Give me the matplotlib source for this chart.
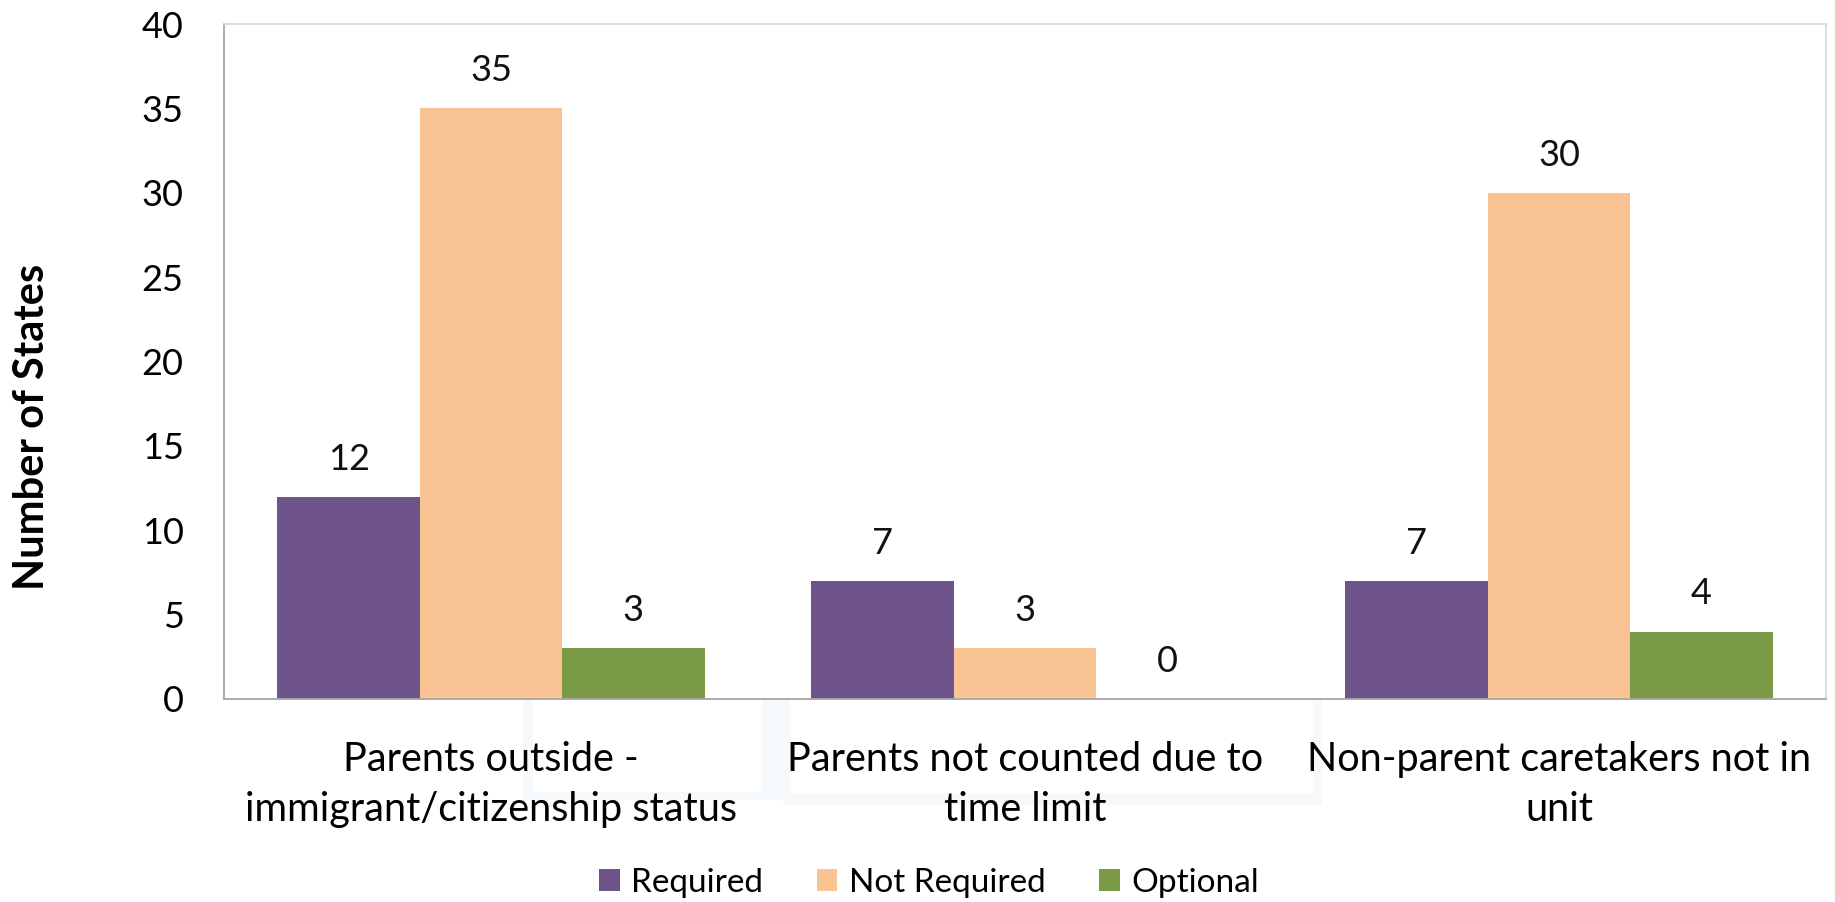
import matplotlib
matplotlib.use("Agg")
import matplotlib.pyplot as plt
from matplotlib.patches import Rectangle
import numpy as np

categories = ["Parents outside -\nimmigrant/citizenship status",
              "Parents not counted due to\ntime limit",
              "Non-parent caretakers not in\nunit"]
series_names = ["Required", "Not Required", "Optional"]
required = [12, 7, 7]
not_required = [35, 3, 30]
optional = [3, 0, 4]
yticks = [0, 5, 10, 15, 20, 25, 30, 35, 40]
colors = ["#6E548A", "#F9C394", "#7B9A45"]

plt.rcParams['font.family'] = ['Lato', 'DejaVu Sans']

W, H = 1835, 902
fig = plt.figure(figsize=(W/100, H/100), dpi=100)

# faint background frames under the category labels (artifact in the original image)
def px_rect(x0, y0, x1, y1, color):
    fig.add_artist(Rectangle((x0/W, 1-y1/H), (x1-x0)/W, (y1-y0)/H,
                             transform=fig.transFigure, facecolor=color,
                             edgecolor='none', zorder=-2))
px_rect(523, 700, 783, 800, '#F6F9FC')
px_rect(533, 700, 762, 792, 'white')
px_rect(783, 700, 1322, 805, '#F6F9FC')
px_rect(790, 700, 1313, 793, 'white')

ax = fig.add_axes([224/W, 1-699/H, (1826-224)/W, (699-24)/H])
ax.patch.set_alpha(0)

x = np.arange(len(categories))
w = 0.8/3
for i, (vals, name, c) in enumerate(zip([required, not_required, optional], series_names, colors)):
    xs = x + (i-1)*w
    ax.bar(xs, vals, width=w, color=c, label=name, linewidth=0)
    for xi, v in zip(xs, vals):
        ax.annotate(str(v), (xi, v), xytext=(0, 27), textcoords='offset points',
                    ha='center', va='center', fontsize=26, color='#111111')

ax.set_xlim(-0.5, 2.5)
ax.set_ylim(0, 40)
ax.set_yticks(yticks)
ax.set_xticks(x)
ax.set_xticklabels(categories, fontsize=28.5, linespacing=1.45)
ax.tick_params(axis='y', length=0, pad=29, labelsize=26)
ax.tick_params(axis='x', length=0, pad=30)
for s in ['top', 'right']:
    ax.spines[s].set_color('#D9D9D9')
for s in ['left', 'bottom']:
    ax.spines[s].set_color('#A6A6A6')
for s in ax.spines.values():
    s.set_linewidth(1.3)

fig.text(32/W, 1-427/H, "Number of States", rotation=90, fontsize=30,
         fontweight='bold', ha='center', va='center')

fig.legend(loc='center', bbox_to_anchor=(929/W, 1-883/H), ncol=3, frameon=False,
           fontsize=24, handlelength=0.62, handleheight=0.62, handletextpad=0.35,
           columnspacing=1.6)

fig.savefig("out.png", dpi=100)
